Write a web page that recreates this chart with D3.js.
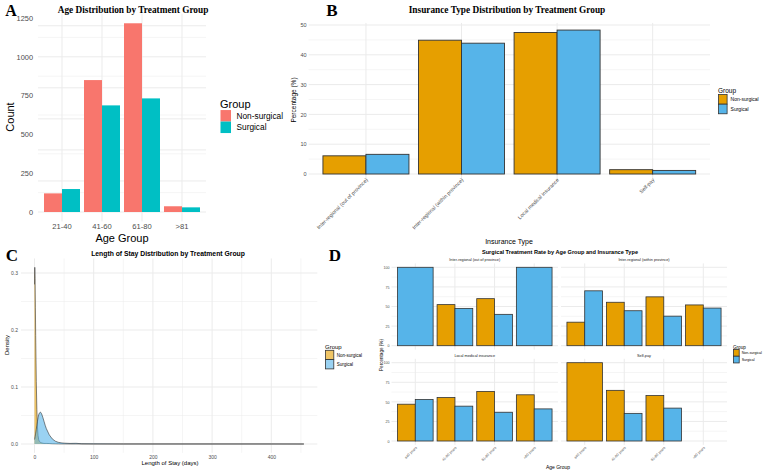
<!DOCTYPE html>
<html>
<head>
<meta charset="utf-8">
<script src="https://cdn.jsdelivr.net/npm/d3@7"></script>
<style>
  body { margin: 0; background: #fff; }
  text { font-family: "Liberation Sans", Arial, sans-serif; }
</style>
</head>
<body>
<div id="chart"></div>
<script>
// panel A
const ageGroups = ["21-40", "41-60", "61-80", ">81"];
const ageNonSurgical = [120, 850, 1216, 37];
const ageSurgical = [148, 687, 732, 30];

// panel B
const insuranceTypes = ["Inter-regional (out of province)", "Inter-regional (within province)", "Local medical insurance", "Self-pay"];
const insNonSurgical = [6.1, 44.9, 47.5, 1.45];
const insSurgical = [6.6, 43.9, 48.3, 1.2];

// panel C (density)
const losDays = [0, 0.5, 1, 1.5, 2, 3, 4, 5, 6, 7, 8, 10, 12, 14, 16, 18, 20, 25, 30, 35, 40, 45, 50, 60, 70, 80, 100, 150, 200, 300, 400, 455];
const losNonSurgical = [0.28, 0.31, 0.29, 0.24, 0.19, 0.11, 0.06, 0.03, 0.015, 0.008, 0.005, 0.003, 0.002, 0.0015, 0.001, 0.001, 0.001, 0.0008, 0.0005, 0.0004, 0.0003, 0.0002, 0.0002, 0.0001, 0.0001, 0, 0, 0, 0, 0, 0, 0];
const losSurgical = [0.008, 0.010, 0.013, 0.016, 0.019, 0.026, 0.033, 0.040, 0.046, 0.051, 0.054, 0.056, 0.053, 0.047, 0.040, 0.033, 0.027, 0.016, 0.009, 0.005, 0.003, 0.002, 0.0015, 0.001, 0.0012, 0.0005, 0.0003, 0.0001, 0.0001, 0.0001, 0.0001, 0];

// panel D (rows follow insuranceTypes, null = group absent)
const rateAgeGroups = ["\u226440 years", "41-60 years", "61-80 years", ">80 years"];
const rateNonSurgical = [
  [null, 52.4, 60, null],
  [30, 55.4, 62.3, 52],
  [47, 55.5, 63.3, 59],
  [100, 64.7, 58, null]
];
const rateSurgical = [
  [100, 47.6, 40, 100],
  [70, 44.6, 37.7, 48],
  [53, 44.5, 36.7, 41],
  [null, 35.3, 42, null]
];

const groups = ["Non-surgical", "Surgical"];
const GRID = "#EBEBEB", TICK = "#4D4D4D";

var svg = d3.select("#chart").append("svg")
  .attr("width", 767).attr("height", 473);

var label = function(x, y, txt, size, opts) {
  opts = opts || {};
  var t = svg.append("text")
    .attr("x", x).attr("y", y)
    .attr("dy", "0.35em")
    .attr("text-anchor", opts.anchor || "middle")
    .style("font-size", size + "px")
    .style("fill", opts.color || "#000")
    .text(txt);
  if (opts.bold) t.style("font-weight", "bold");
  if (opts.serif) t.style("font-family", "'Liberation Serif', 'Times New Roman', serif");
  if (opts.rotate) t.attr("transform", "rotate(" + opts.rotate + "," + x + "," + y + ")");
  return t;
};

var hGrid = function(y, ticks, minor, x0, x1) {
  minor.forEach(function(v) {
    svg.append("line").attr("x1", x0).attr("x2", x1)
      .attr("y1", y(v)).attr("y2", y(v))
      .attr("stroke", GRID).attr("stroke-width", 0.5);
  });
  ticks.forEach(function(v) {
    svg.append("line").attr("x1", x0).attr("x2", x1)
      .attr("y1", y(v)).attr("y2", y(v))
      .attr("stroke", GRID).attr("stroke-width", 1);
  });
};

var vGrid = function(xs, y0, y1, w) {
  xs.forEach(function(x) {
    svg.append("line").attr("x1", x).attr("x2", x)
      .attr("y1", y0).attr("y2", y1)
      .attr("stroke", GRID).attr("stroke-width", w || 1);
  });
};

var legend = function(x, y, titleSize, keySize, labelSize, colors, opts) {
  label(x, y, "Group", titleSize, {anchor: "start"});
  groups.forEach(function(g, i) {
    var ky = y + titleSize * 0.55 + i * keySize;
    svg.append("rect")
      .attr("x", x + 0.5).attr("y", ky)
      .attr("width", keySize - 1).attr("height", keySize)
      .attr("fill", colors[i])
      .attr("fill-opacity", opts.alpha || 1)
      .attr("stroke", opts.stroke || "none")
      .attr("stroke-width", opts.stroke ? 0.8 : 0);
    label(x + keySize + opts.gap, ky + keySize / 2, g, labelSize, {anchor: "start"});
  });
};

var styleTicks = function(sel, size) {
  sel.selectAll("text").style("font-size", size + "px").style("fill", TICK)
    .style("font-family", "'Liberation Sans', Arial, sans-serif");
};

// ---------- A ----------
var create_panelA = function() {
  var x = d3.scaleBand().domain(ageGroups).range([38, 206])
    .paddingInner(0.1).paddingOuter(0.15);
  var sub = d3.scaleBand().domain(groups).range([0, x.bandwidth()]);
  var y = d3.scaleLinear().domain([0, 1250]).range([212, 18]);

  hGrid(y, y.ticks(5), d3.range(125, 1300, 250), 38, 206);
  vGrid(ageGroups.map(function(d) { return x(d) + x.bandwidth() / 2; }), y(1278), y(-61));

  var colors = ["#F8766D", "#00BFC4"];
  [ageNonSurgical, ageSurgical].forEach(function(vals, gi) {
    svg.append("g").selectAll("rect")
      .data(vals).enter().append("rect")
      .attr("x", function(d, i) { return x(ageGroups[i]) + sub(groups[gi]); })
      .attr("y", function(d) { return y(d); })
      .attr("width", sub.bandwidth())
      .attr("height", function(d) { return y(0) - y(d); })
      .attr("fill", colors[gi]);
  });

  svg.append("g").attr("transform", "translate(33,0)")
    .call(d3.axisLeft(y).tickValues([0, 250, 500, 750, 1000, 1250]).tickFormat(d3.format("d")).tickSize(0).tickPadding(0))
    .call(function(g) { g.select(".domain").remove(); })
    .call(styleTicks, 7.4);
  svg.append("g").attr("transform", "translate(0,224)")
    .call(d3.axisBottom(x).tickSize(0).tickPadding(0))
    .call(function(g) { g.select(".domain").remove(); })
    .call(styleTicks, 7.6);

  label(10, 117, "Count", 11, {rotate: -90});
  label(122, 238, "Age Group", 11);
  label(133, 10, "Age Distribution by Treatment Group", 9.3, {bold: true, serif: true});
  label(11, 10, "A", 16, {bold: true, serif: true});
  legend(220, 104, 11, 11.5, 8.3, colors, {gap: 5});
};

// ---------- B ----------
var create_panelB = function() {
  var x = d3.scaleBand().domain(insuranceTypes).range([308.6, 710])
    .paddingInner(0.1).paddingOuter(0.15);
  var sub = d3.scaleBand().domain(groups).range([0, x.bandwidth()]);
  var y = d3.scaleLinear().domain([0, 50]).range([174, 25]);

  hGrid(y, y.ticks(5), d3.range(5, 55, 10), 308.6, 710);
  vGrid(insuranceTypes.map(function(d) { return x(d) + x.bandwidth() / 2; }), y(50.7), y(-2.4));

  var colors = ["#E69F00", "#56B4E9"];
  [insNonSurgical, insSurgical].forEach(function(vals, gi) {
    svg.append("g").selectAll("rect")
      .data(vals).enter().append("rect")
      .attr("x", function(d, i) { return x(insuranceTypes[i]) + sub(groups[gi]); })
      .attr("y", function(d) { return y(d); })
      .attr("width", sub.bandwidth())
      .attr("height", function(d) { return y(0) - y(d); })
      .attr("fill", colors[gi])
      .attr("stroke", "#333").attr("stroke-width", 0.9);
  });

  svg.append("g").attr("transform", "translate(306.5,0)")
    .call(d3.axisLeft(y).ticks(5).tickSize(0).tickPadding(0))
    .call(function(g) { g.select(".domain").remove(); })
    .call(styleTicks, 5.5);

  insuranceTypes.forEach(function(t) {
    var cx = x(t) + x.bandwidth() / 2;
    label(cx + 1, 179, t, 5.2, {anchor: "end", rotate: -45, color: TICK});
  });

  label(294, 100, "Percentage (%)", 6.5, {rotate: -90});
  label(509, 242, "Insurance Type", 7);
  label(507, 10, "Insurance Type Distribution by Treatment Group", 9.3, {bold: true, serif: true});
  label(332, 10, "B", 17, {bold: true, serif: true});
  legend(718, 91, 6.5, 9.6, 5, colors, {stroke: "#333", gap: 3});
};

// ---------- C ----------
var create_panelC = function() {
  var x = d3.scaleLinear().domain([0, 400]).range([34.5, 271.3]);
  var y = d3.scaleLinear().domain([0, 0.3]).range([444, 273]);
  var px0 = x(-22.75), px1 = x(477.75), py0 = y(0.3255), py1 = y(-0.0155);

  hGrid(y, [0, 0.1, 0.2, 0.3], [0.05, 0.15, 0.25], px0, px1);
  vGrid([50, 150, 250, 350, 450].map(x), py0, py1, 0.5);
  vGrid([0, 100, 200, 300, 400].map(x), py0, py1, 1);

  var colors = ["#E69F00", "#56B4E9"];
  [losNonSurgical, losSurgical].forEach(function(vals, gi) {
    var pts = losDays.map(function(d, i) { return [d, vals[i]]; });
    svg.append("path").datum(pts)
      .attr("fill", colors[gi]).attr("fill-opacity", 0.6)
      .attr("d", d3.area()
        .x(function(d) { return x(d[0]); })
        .y0(y(0))
        .y1(function(d) { return y(d[1]); }));
    svg.append("path").datum(pts)
      .attr("fill", "none").attr("stroke", "#333").attr("stroke-width", 0.6)
      .attr("d", d3.line()
        .x(function(d) { return x(d[0]); })
        .y(function(d) { return y(d[1]); }));
  });

  svg.append("g").attr("transform", "translate(18,0)")
    .call(d3.axisLeft(y).tickValues([0, 0.1, 0.2, 0.3]).tickFormat(d3.format(".1f")).tickSize(0).tickPadding(0))
    .call(function(g) { g.select(".domain").remove(); })
    .call(styleTicks, 5);
  svg.append("g").attr("transform", "translate(0,455)")
    .call(d3.axisBottom(x).tickValues([0, 100, 200, 300, 400]).tickSize(0).tickPadding(0))
    .call(function(g) { g.select(".domain").remove(); })
    .call(styleTicks, 5);

  label(7, 345, "Density", 6, {rotate: -90});
  label(170, 463, "Length of Stay (days)", 6);
  label(168, 254, "Length of Stay Distribution by Treatment Group", 6.8, {bold: true});
  label(12, 255, "C", 17, {bold: true, serif: true});
  legend(325, 347, 6, 9.3, 4.5, colors, {stroke: "#333", alpha: 0.6, gap: 2.5});
};

// ---------- D ----------
var create_panelD = function() {
  var cols = [[391.5, 558], [561, 727]];
  var rows = [[345.7, 267.3], [441, 362.7]];
  var colors = ["#E69F00", "#56B4E9"];

  insuranceTypes.forEach(function(ins, k) {
    var c = cols[k % 2], r = rows[Math.floor(k / 2)];
    var x = d3.scaleBand().domain(rateAgeGroups).range(c)
      .paddingInner(0.1).paddingOuter(0.15);
    var y = d3.scaleLinear().domain([0, 100]).range(r);

    hGrid(y, [0, 25, 50, 75, 100], [12.5, 37.5, 62.5, 87.5], c[0], c[1]);
    vGrid(rateAgeGroups.map(function(d) { return x(d) + x.bandwidth() / 2; }), y(105), y(-5));

    rateAgeGroups.forEach(function(a, i) {
      var present = [rateNonSurgical[k][i], rateSurgical[k][i]];
      var n = present.filter(function(v) { return v != null; }).length;
      var w = x.bandwidth() / Math.max(n, 1), j = 0;
      present.forEach(function(v, gi) {
        if (v == null) return;
        svg.append("rect")
          .attr("x", x(a) + j * w).attr("y", y(v))
          .attr("width", w).attr("height", y(0) - y(v))
          .attr("fill", colors[gi])
          .attr("stroke", "#333").attr("stroke-width", 0.8);
        j++;
      });
    });

    label((c[0] + c[1]) / 2, r[1] - 7.5, ins, 3.8, {color: "#1A1A1A"});

    if (k % 2 == 0) {
      svg.append("g").attr("transform", "translate(389.5,0)")
        .call(d3.axisLeft(y).tickValues([0, 25, 50, 75, 100]).tickSize(0).tickPadding(0))
        .call(function(g) { g.select(".domain").remove(); })
        .call(styleTicks, 3.6);
    }
    if (k >= 2) {
      rateAgeGroups.forEach(function(a) {
        label(x(a) + x.bandwidth() / 2 + 1, 447, a, 3.6, {anchor: "end", rotate: -45, color: TICK});
      });
    }
  });

  label(381.5, 355, "Percentage (%)", 4.6, {rotate: -90});
  label(558, 467, "Age Group", 5);
  label(560, 252, "Surgical Treatment Rate by Age Group and Insurance Type", 5.6, {bold: true});
  label(335, 255, "D", 17, {bold: true, serif: true});
  legend(733, 347, 4.6, 6.7, 3.6, colors, {stroke: "#333", gap: 2});
};

create_panelA();
create_panelB();
create_panelC();
create_panelD();
</script>
</body>
</html>
